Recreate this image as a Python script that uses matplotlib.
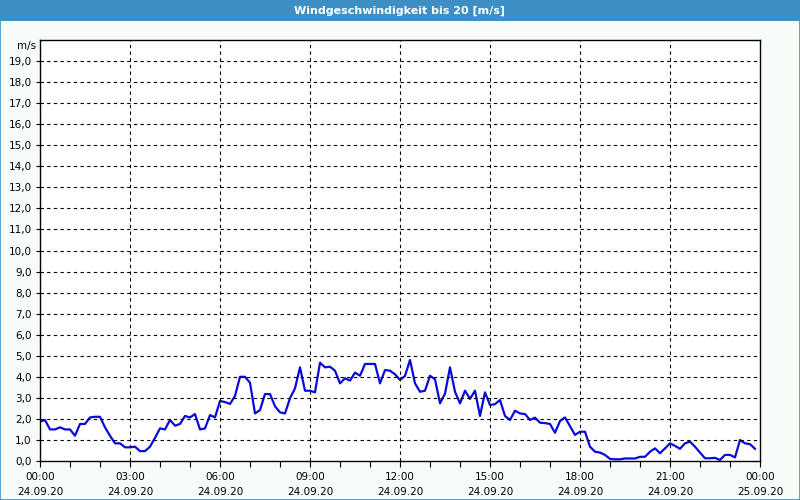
import matplotlib.pyplot as plt
import matplotlib.patches as patches
import numpy as np

title = "Windgeschwindigkeit bis 20 [m/s]"
unit = "m/s"

# one value every 10 minutes, starting 24.09.20 00:00
speed = [
    1.87, 1.95, 1.50, 1.50, 1.60, 1.50, 1.50, 1.20, 1.76, 1.76,
    2.07, 2.10, 2.10, 1.60, 1.20, 0.84, 0.84, 0.65, 0.65, 0.68,
    0.47, 0.47, 0.68, 1.10, 1.55, 1.50, 1.95, 1.68, 1.76, 2.14,
    2.07, 2.23, 1.50, 1.55, 2.18, 2.07, 2.85, 2.80, 2.71, 3.09,
    4.00, 4.00, 3.72, 2.26, 2.42, 3.18, 3.18, 2.60, 2.31, 2.26,
    2.98, 3.45, 4.45, 3.34, 3.34, 3.26, 4.67, 4.45, 4.48, 4.29,
    3.69, 3.93, 3.82, 4.20, 4.05, 4.61, 4.61, 4.61, 3.69, 4.32,
    4.29, 4.12, 3.85, 4.04, 4.80, 3.69, 3.29, 3.34, 4.05, 3.88,
    2.74, 3.20, 4.45, 3.29, 2.74, 3.34, 2.95, 3.34, 2.14, 3.26,
    2.66, 2.70, 2.90, 2.14, 1.95, 2.39, 2.26, 2.23, 1.95, 2.06,
    1.82, 1.80, 1.76, 1.34, 1.90, 2.07, 1.66, 1.24, 1.39, 1.39,
    0.68, 0.44, 0.40, 0.29, 0.10, 0.08, 0.08, 0.12, 0.12, 0.12,
    0.20, 0.20, 0.44, 0.60, 0.37, 0.60, 0.84, 0.72, 0.58, 0.84,
    0.92, 0.68, 0.40, 0.13, 0.13, 0.15, 0.05, 0.29, 0.29, 0.17,
    1.00, 0.84, 0.80, 0.58,
]
tick_hours = [0, 3, 6, 9, 12, 15, 18, 21, 24]
tick_labels = [
    "00:00\n24.09.20", "03:00\n24.09.20", "06:00\n24.09.20", "09:00\n24.09.20",
    "12:00\n24.09.20", "15:00\n24.09.20", "18:00\n24.09.20", "21:00\n24.09.20",
    "00:00\n25.09.20",
]
y_ticks = list(range(0, 20))

hours = np.arange(len(speed)) / 6.0

fig = plt.figure(figsize=(8, 5), dpi=100)
fig.patch.set_facecolor("#f8fcf8")

# title bar and frame
fig.add_artist(patches.Rectangle((0, 0.958), 1, 0.042, transform=fig.transFigure,
                                 facecolor="#3d8fc6", edgecolor="none"))
fig.add_artist(patches.Rectangle((0.0006, 0.001), 0.9988, 0.998, transform=fig.transFigure,
                                 facecolor="none", edgecolor="#3d8fc6", linewidth=1.2))
fig.text(0.5, 0.979, title, color="white", fontsize=8, fontweight="bold",
         ha="center", va="center")

ax = fig.add_axes([0.05, 0.078, 0.90, 0.842])
ax.set_facecolor("white")
ax.plot(hours, speed, color="#0a0adc", linewidth=1.6)

ax.set_xlim(0, 24)
ax.set_ylim(0, 20)
ax.set_xticks(tick_hours)
ax.set_xticklabels(tick_labels, fontsize=7.5, linespacing=1.65)
ax.set_xticks(range(0, 25), minor=True)
ax.set_yticks(y_ticks)
ax.set_yticklabels([f"{v},0" for v in y_ticks], fontsize=7.5)
ax.tick_params(axis="both", which="both", direction="out", length=4, width=0.8, pad=4)
ax.tick_params(axis="y", length=3, pad=3)

for h in tick_hours[1:-1]:
    ax.axvline(h, color="black", linestyle=(0, (3, 3)), linewidth=0.8)
for v in y_ticks[1:]:
    ax.axhline(v, color="black", linestyle=(0, (3, 3)), linewidth=0.8)

for side in ax.spines.values():
    side.set_linewidth(1.0)
ax.text(-0.005, 19.7, unit, transform=ax.get_yaxis_transform(), ha="right", va="center",
        fontsize=7.5)

fig.savefig("out.png", dpi=100, facecolor=fig.get_facecolor())
